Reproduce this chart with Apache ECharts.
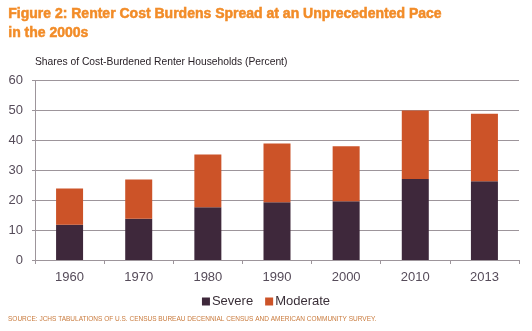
<!DOCTYPE html>
<html>
<head>
<meta charset="utf-8">
<script src="https://cdn.jsdelivr.net/npm/echarts@6/dist/echarts.min.js"></script>
<style>html,body{margin:0;padding:0;background:#fff}#c{width:532px;height:331px}</style>
</head>
<body>
<div id="c"></div>
<script>
var categories = ['1960','1970','1980','1990','2000','2010','2013'];
var severe = [11.8, 13.8, 17.6, 19.3, 19.6, 27.1, 26.3];
var moderate = [12.1, 13.1, 17.7, 19.6, 18.4, 22.9, 22.6];
var yTicks = [0, 10, 20, 30, 40, 50, 60];

var chart = echarts.init(document.getElementById('c'));
var axisGray = '#9d959b';
chart.setOption({
  animation: false,
  graphic: [
    {type:'text', left: 8, top: 5, style:{text:'Figure 2: Renter Cost Burdens Spread at an Unprecedented Pace\nin the 2000s', fill:'#f28c28', stroke:'#f28c28', lineWidth:0.5, font:'bold 14px "Liberation Sans", sans-serif', lineHeight:19}},
    {type:'text', left: 35, top: 57, style:{text:'Shares of Cost-Burdened Renter Households (Percent)', fill:'#2a2228', font:'10.3px "Liberation Sans", sans-serif'}},
    {type:'text', left: 8, top: 316, style:{text:'SOURCE: JCHS TABULATIONS OF U.S. CENSUS BUREAU DECENNIAL CENSUS AND AMERICAN COMMUNITY SURVEY.', fill:'#c97a3c', font:'6.5px "Liberation Sans", sans-serif'}}
  ],
  legend: {
    data: ['Severe','Moderate'],
    left: 'center', top: 290,
    itemWidth: 8, itemHeight: 8, itemGap: 12,
    icon: 'rect',
    textStyle: {color:'#3a2f38', fontSize: 13, fontFamily:'"Liberation Sans", sans-serif', padding:[0,0,0,-3]}
  },
  grid: {left: 35, right: 13, top: 80.5, bottom: 71},
  xAxis: {
    type: 'category', data: categories,
    axisLine: {lineStyle:{color: axisGray}},
    axisTick: {show:true, length: 4, lineStyle:{color: axisGray}},
    axisLabel: {color:'#564c5a', fontSize: 13, margin: 11, fontFamily:'"Liberation Sans", sans-serif'}
  },
  yAxis: {
    type: 'value', min: 0, max: 60, interval: 10,
    axisLine: {show:true, lineStyle:{color: axisGray}},
    axisTick: {show:true, length: 3, lineStyle:{color: axisGray}},
    splitLine: {lineStyle:{color: axisGray}},
    axisLabel: {color:'#564c5a', fontSize: 13, margin: 12, fontFamily:'"Liberation Sans", sans-serif',
      formatter: function(v){ return yTicks.indexOf(v) >= 0 ? String(v) : ''; }}
  },
  series: [
    {name:'Severe', type:'bar', stack:'a', data: severe, barWidth: 27, itemStyle:{color:'#3e283b'}},
    {name:'Moderate', type:'bar', stack:'a', data: moderate, barWidth: 27, itemStyle:{color:'#cc5328'}}
  ]
});
</script>
</body>
</html>
